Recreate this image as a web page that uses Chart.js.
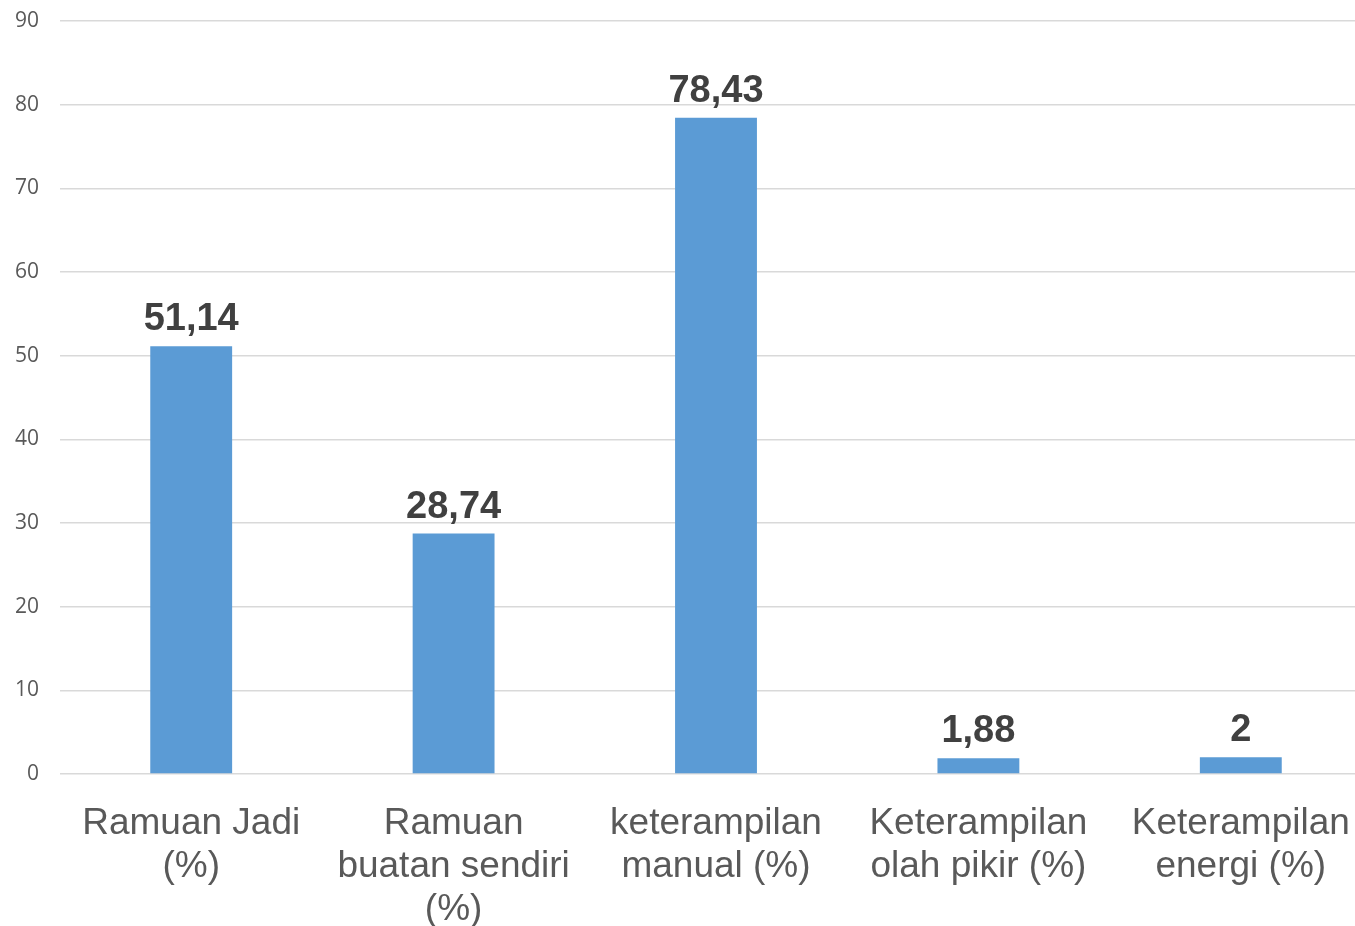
<!DOCTYPE html>
<html>
<head>
<meta charset="utf-8">
<script src="https://cdn.jsdelivr.net/npm/chart.js@4.4.0/dist/chart.umd.min.js"></script>
<style>
  html, body { margin: 0; padding: 0; background: #fff; overflow: hidden; }
  #wrap { width: 1355px; height: 926px; overflow: hidden; }
</style>
</head>
<body>
<div id="wrap"><canvas id="grafik" width="1372" height="926"></canvas></div>
<script>
var kategori = [
    ['Ramuan Jadi', '(%)'],
    ['Ramuan', 'buatan sendiri', '(%)'],
    ['keterampilan', 'manual (%)'],
    ['Keterampilan', 'olah pikir (%)'],
    ['Keterampilan', 'energi (%)']
];
var nilai = [51.14, 28.74, 78.43, 1.88, 2];
var yMin = 0;
var yMax = 90;
var yStep = 10;

// label angka di atas batang (format koma)
var labelNilai = {
    id: 'labelNilai',
    afterDatasetsDraw: function (chart) {
        var ctx = chart.ctx;
        var meta = chart.getDatasetMeta(0);
        ctx.save();
        ctx.font = 'bold 38px "Liberation Sans", Arial, sans-serif';
        ctx.fillStyle = '#404040';
        ctx.textAlign = 'center';
        ctx.textBaseline = 'alphabetic';
        meta.data.forEach(function (bar, i) {
            var teks = String(nilai[i]).replace('.', ',');
            ctx.fillText(teks, bar.x, bar.y - 16);
        });
        ctx.restore();
    }
};

const ctx = document.getElementById('grafik').getContext('2d');
const myChart = new Chart(ctx, {
    type: 'bar',
    data: {
        labels: kategori,
        datasets: [{
            data: nilai,
            backgroundColor: '#5B9BD5',
            borderWidth: 0,
            categoryPercentage: 1,
            barPercentage: 0.312
        }]
    },
    options: {
        responsive: false,
        animation: false,
        layout: { padding: { top: 21, right: 0, left: 0, bottom: 0 } },
        plugins: {
            legend: { display: false },
            tooltip: { enabled: false }
        },
        scales: {
            x: {
                grid: { display: false, drawTicks: false },
                border: { display: false },
                ticks: {
                    color: '#595959',
                    padding: 28,
                    maxRotation: 0,
                    autoSkip: false,
                    font: { family: '"Liberation Sans", Arial, sans-serif', size: 37, lineHeight: 1.16 }
                },
                afterFit: function (scale) {
                    scale.height = 152;
                    scale.paddingLeft = 0;
                    scale.paddingRight = 0;
                }
            },
            y: {
                min: yMin,
                max: yMax,
                grid: { color: '#D9D9D9', lineWidth: 1.5, drawTicks: false },
                border: { display: false },
                ticks: {
                    stepSize: yStep,
                    color: '#595959',
                    padding: 21,
                    font: { family: '"Open Sans", sans-serif', size: 21 }
                },
                afterFit: function (scale) {
                    scale.width = 60;
                    scale.paddingTop = 0;
                    scale.paddingBottom = 0;
                }
            }
        }
    },
    plugins: [labelNilai]
});
</script>
</body>
</html>
